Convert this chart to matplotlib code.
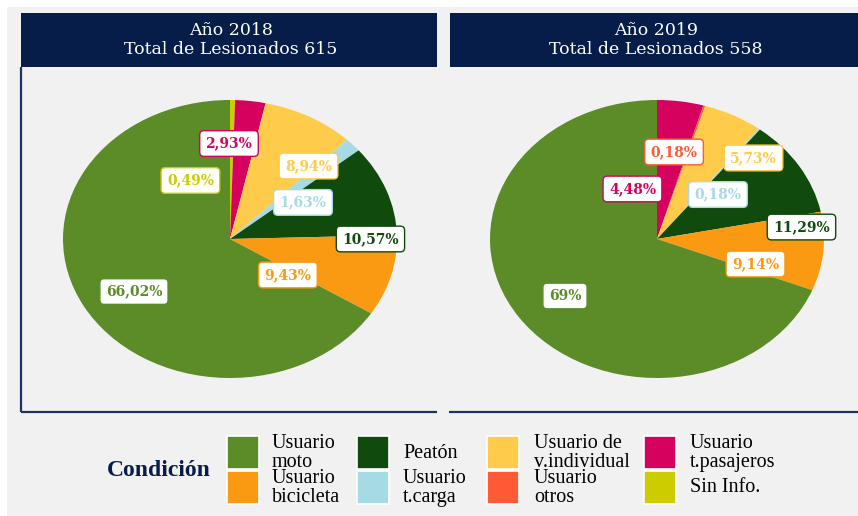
import numpy as np
import matplotlib.pyplot as plt
from matplotlib.patches import Rectangle

# ---------------- data ----------------
categories = ["Sin Info.", "Usuario t.pasajeros", "Usuario otros", "Usuario de v.individual",
              "Usuario t.carga", "Peatón", "Usuario bicicleta", "Usuario moto"]
pct_2018 = [0.49, 2.93, 0.0, 8.94, 1.63, 10.57, 9.43, 66.02]
pct_2019 = [0.0, 4.48, 0.18, 5.73, 0.18, 11.29, 9.14, 69.0]
years = [2018, 2019]
totals = [615, 558]

legend_order = ["Usuario moto", "Usuario bicicleta", "Peatón", "Usuario t.carga",
                "Usuario de v.individual", "Usuario otros", "Usuario t.pasajeros", "Sin Info."]
legend_text = ["Usuario\nmoto", "Usuario\nbicicleta", "Peatón", "Usuario\nt.carga",
               "Usuario de\nv.individual", "Usuario\notros", "Usuario\nt.pasajeros", "Sin Info."]

# ---------------- style ----------------
colors = {
    "Usuario moto": "#5B8C28",
    "Usuario bicicleta": "#F99A12",
    "Peatón": "#104A0C",
    "Usuario t.carga": "#A6DAE5",
    "Usuario de v.individual": "#FECB4A",
    "Usuario otros": "#FF5A36",
    "Usuario t.pasajeros": "#D6005F",
    "Sin Info.": "#CCCC00",
}
navy = "#061D49"
bg = "#F1F1F1"

# label positions in pie units (x, y), per year
label_pos = {
    2018: {"Sin Info.": (-0.237, 0.421), "Usuario t.pasajeros": (-0.006, 0.687),
           "Usuario de v.individual": (0.470, 0.525), "Usuario t.carga": (0.437, 0.263),
           "Peatón": (0.841, 0.0), "Usuario bicicleta": (0.347, -0.259),
           "Usuario moto": (-0.575, -0.378)},
    2019: {"Usuario t.pasajeros": (-0.147, 0.360), "Usuario otros": (0.102, 0.626),
           "Usuario de v.individual": (0.578, 0.583), "Usuario t.carga": (0.365, 0.320),
           "Peatón": (0.865, 0.086), "Usuario bicicleta": (0.590, -0.180),
           "Usuario moto": (-0.551, -0.410)},
}

W, H = 858, 516
fig = plt.figure(figsize=(W / 100, H / 100), dpi=100, facecolor="white")

# overlay in pixel coords for the frame, titles and legend
ov = fig.add_axes([0, 0, 1, 1])
ov.set_xlim(0, W)
ov.set_ylim(H, 0)
ov.axis("off")
ov.add_patch(Rectangle((7, 7), W - 7, H - 7, fc=bg, ec="none"))

panels = [(21, 437), (450, 858)]
for (x0, x1), yr, tot in zip(panels, years, totals):
    ov.add_patch(Rectangle((x0, 13), x1 - x0, 54, fc=navy, ec="none"))
    ov.text((x0 + x1) / 2 + 2, 40, f"Año {yr}\nTotal de Lesionados {tot}", ha="center", va="center",
            color="white", fontsize=12.5, family="DejaVu Serif", linespacing=1.1)
ov.plot([21, 21], [67, 412], color="#1F3264", lw=1.6, solid_capstyle="butt")
ov.plot([21, 437], [412, 412], color="#1F3264", lw=1.6, solid_capstyle="butt")
ov.plot([449, 858], [412, 412], color="#1F3264", lw=1.6, solid_capstyle="butt")

# ---------------- pies ----------------
centers = [(230, 239), (657, 239)]
rx, ry = 167, 139
for (cx, cy), yr, vals in zip(centers, years, [pct_2018, pct_2019]):
    ax = fig.add_axes([(cx - rx) / W, 1 - (cy + ry) / H, 2 * rx / W, 2 * ry / H])
    ax.pie(vals, colors=[colors[c] for c in categories], startangle=90, counterclock=False,
           wedgeprops=dict(linewidth=0))
    ax.set_aspect("auto")
    ax.set_xlim(-1, 1)
    ax.set_ylim(-1, 1)
    ax.axis("off")
    for cat, v in zip(categories, vals):
        if v == 0:
            continue
        txt = f"{v:.0f}%" if v == int(v) else f"{v:.2f}%".replace(".", ",")
        x, y = label_pos[yr][cat]
        c = colors[cat]
        ax.text(x, y, txt, ha="center", va="center", fontsize=10, fontweight="bold",
                family="DejaVu Serif", color=c, clip_on=False,
                bbox=dict(boxstyle="round,pad=0.42,rounding_size=0.3", fc="white", ec=c, lw=1))

# ---------------- legend ----------------
ov.text(159, 470, "Condición", ha="center", va="center", fontsize=17, fontweight="bold",
        family="Liberation Serif", color=navy)
sw_x = [227, 357, 487, 644]
tx_x = [272, 403, 534, 690]
row_y = [436, 471]
for i, (cat, lab) in enumerate(zip(legend_order, legend_text)):
    col, row = i // 2, i % 2
    ov.add_patch(Rectangle((sw_x[col], row_y[row]), 32, 33, fc=colors[cat], ec="white", lw=1.2))
    ov.text(tx_x[col], row_y[row] + 17, lab, ha="left", va="center", fontsize=14.5,
            family="Liberation Serif", color="black", linespacing=0.95)

fig.savefig("out.png", dpi=100, facecolor=fig.get_facecolor())
